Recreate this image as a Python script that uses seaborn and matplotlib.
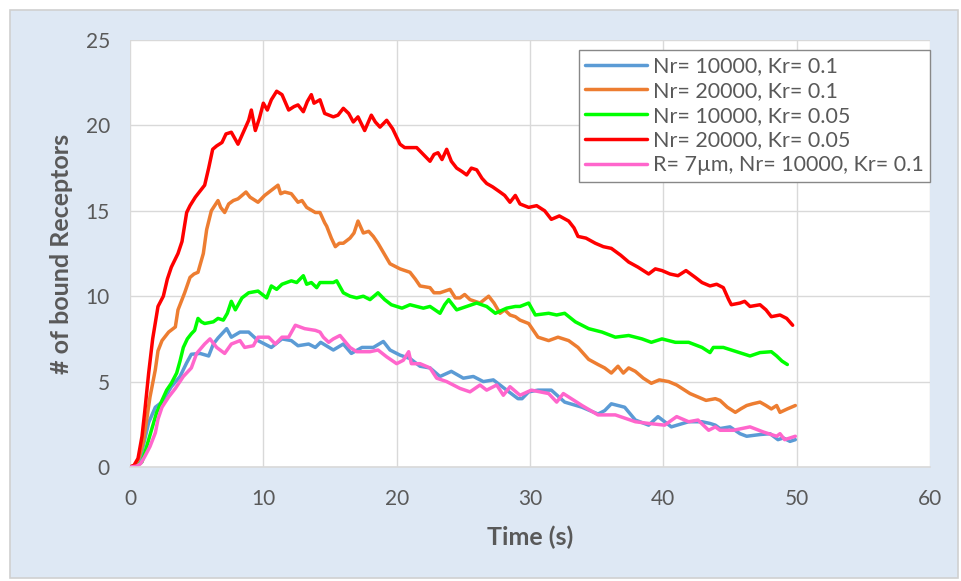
import matplotlib
matplotlib.use("Agg")
import matplotlib.pyplot as plt
from matplotlib.patches import Rectangle
import seaborn as sns
import pandas as pd

series_names = [
    "Nr= 10000, Kr= 0.1",
    "Nr= 20000, Kr= 0.1",
    "Nr= 10000, Kr= 0.05",
    "Nr= 20000, Kr= 0.05",
    "R= 7\u00b5m, Nr= 10000, Kr= 0.1",
]
series_colors = ["#5B9BD5", "#ED7D31", "#00FF00", "#FF0000", "#FF66CC"]

blue_t = [0, 0.5, 0.8, 1.1, 1.4, 1.9, 2.4, 3.1, 3.75, 4.25, 4.6, 5.25, 5.9, 6.25, 6.6, 7.25, 7.6, 8.25, 8.9, 9.6,
          10.1, 10.6, 11.4, 12.1, 12.6, 13.4, 13.9, 14.3, 15.25, 16.0, 16.6, 17.4, 18.25, 19.0, 19.5, 20.25, 21.0,
          21.75, 22.5, 23.25, 24.1, 25.0, 25.75, 26.5, 27.25, 28.25, 29.1, 29.4, 29.9, 30.6, 31.6, 32.6, 33.9, 35.1,
          35.6, 36.1, 37.1, 37.9, 38.9, 39.6, 40.6, 41.9, 42.9, 43.5, 43.9, 44.25, 45.0, 45.75, 46.25, 47.25, 48.0,
          48.6, 49.0, 49.5, 49.9]
blue_v = [0, 0.1, 0.6, 1.6, 2.6, 3.5, 3.8, 4.7, 5.3, 6.1, 6.6, 6.65, 6.5, 7.2, 7.55, 8.1, 7.6, 7.9, 7.9, 7.4,
          7.2, 7.0, 7.5, 7.4, 7.1, 7.2, 7.0, 7.3, 6.85, 7.2, 6.65, 7.0, 7.0, 7.35, 6.85, 6.55, 6.35,
          5.9, 5.8, 5.3, 5.6, 5.2, 5.3, 5.0, 5.1, 4.5, 4.0, 4.0, 4.4, 4.5, 4.5, 3.8, 3.5, 3.1,
          3.3, 3.7, 3.5, 2.75, 2.45, 2.95, 2.35, 2.65, 2.65, 2.55, 2.45, 2.25, 2.35, 1.95, 1.8, 1.9, 1.95,
          1.6, 1.7, 1.5, 1.6]

orange_t = [0, 0.4, 0.7, 1.0, 1.2, 1.5, 1.9, 2.1, 2.4, 2.9, 3.4, 3.6, 4.1, 4.5, 4.8, 5.1, 5.5, 5.75, 6.1, 6.6,
            6.8, 7.1, 7.4, 7.75, 8.1, 8.4, 8.7, 9.0, 9.6, 10.1, 10.6, 11.1, 11.3, 11.6, 12.1, 12.6, 12.9, 13.25,
            13.9, 14.25, 14.6, 14.75, 15.1, 15.4, 15.7, 16.0, 16.5, 16.8, 17.1, 17.5, 17.9, 18.25, 18.6, 18.9,
            19.5, 20.25, 21.0, 21.4, 21.75, 22.5, 22.8, 23.25, 24.0, 24.4, 24.75, 25.1, 25.5, 26.25, 26.9, 27.3,
            27.75, 28.1, 28.5, 28.9, 29.25, 29.9, 30.6, 31.4, 32.1, 32.9, 33.6, 34.4, 35.1, 35.6, 36.1, 36.6,
            37.0, 37.4, 37.9, 38.5, 39.1, 39.7, 40.4, 41.0, 41.4, 42.0, 42.6, 43.2, 43.9, 44.25, 44.8, 45.4,
            45.8, 46.25, 46.7, 47.25, 47.7, 48.1, 48.5, 48.75, 49.3, 49.9]
orange_v = [0, 0.1, 0.6, 1.5, 2.5, 4.1, 5.7, 6.8, 7.4, 7.9, 8.2, 9.2, 10.2, 11.1, 11.3, 11.4, 12.5, 13.9, 15.0, 15.6,
            15.2, 14.9, 15.4, 15.6, 15.7, 15.9, 16.1, 15.8, 15.5, 15.9, 16.2, 16.5, 16.0, 16.1, 16.0, 15.5, 15.6, 15.2,
            14.9, 14.9, 14.3, 14.1, 13.4, 12.9, 13.1, 13.1, 13.4, 13.7, 14.4, 13.7, 13.8, 13.5, 13.1, 12.7,
            11.9, 11.6, 11.4, 11.0, 10.6, 10.5, 10.2, 10.2, 10.4, 9.9, 9.9, 10.1, 9.8, 9.6, 10.0, 9.6,
            9.0, 9.2, 8.9, 8.8, 8.6, 8.4, 7.6, 7.4, 7.6, 7.4, 7.0, 6.3, 6.0, 5.8, 5.5, 5.9,
            5.5, 5.8, 5.6, 5.2, 4.9, 5.1, 5.0, 4.8, 4.6, 4.3, 4.1, 3.9, 4.0, 3.9, 3.5, 3.2,
            3.4, 3.6, 3.7, 3.8, 3.6, 3.4, 3.6, 3.2, 3.4, 3.6]

green_t = [0, 0.5, 0.9, 1.1, 1.4, 1.7, 2.0, 2.4, 2.75, 3.1, 3.5, 3.75, 4.0, 4.3, 4.6, 4.85, 5.1, 5.35, 5.6, 6.25,
           6.6, 7.0, 7.3, 7.6, 7.9, 8.4, 8.9, 9.6, 10.25, 10.6, 11.0, 11.4, 12.1, 12.5, 13.0, 13.25, 13.6, 14.0,
           14.25, 14.6, 15.25, 15.5, 16.0, 16.5, 17.0, 17.5, 18.0, 18.6, 19.1, 19.6, 20.4, 21.0, 21.5, 22.0, 22.5,
           23.25, 23.6, 23.9, 24.5, 25.25, 26.0, 26.75, 27.4, 28.25, 28.9, 29.25, 29.9, 30.4, 31.4, 32.0, 32.6,
           33.4, 34.4, 35.4, 36.4, 37.4, 38.4, 39.1, 39.9, 40.9, 41.9, 42.9, 43.5, 43.75, 44.5, 45.5, 46.5,
           47.25, 48.1, 48.5, 48.9, 49.3]
green_v = [0, 0.05, 0.3, 0.8, 1.6, 2.4, 3.2, 3.9, 4.5, 4.9, 5.5, 6.2, 7.0, 7.5, 7.8, 8.0, 8.7, 8.5, 8.4, 8.5,
           8.7, 8.6, 9.0, 9.7, 9.2, 9.9, 10.2, 10.3, 9.9, 10.6, 10.4, 10.7, 10.9, 10.8, 11.2, 10.7, 10.8, 10.5,
           10.8, 10.8, 10.8, 10.9, 10.2, 10.0, 9.9, 10.0, 9.8, 10.2, 9.8, 9.5, 9.3, 9.5, 9.4, 9.3, 9.4,
           9.0, 9.5, 9.8, 9.2, 9.4, 9.6, 9.4, 9.0, 9.3, 9.4, 9.4, 9.6, 8.9, 9.0, 8.9, 9.0,
           8.5, 8.1, 7.9, 7.6, 7.7, 7.5, 7.3, 7.5, 7.3, 7.3, 7.0, 6.7, 7.0, 7.0, 6.75, 6.5,
           6.7, 6.75, 6.5, 6.2, 6.0]

red_t = [0, 0.3, 0.6, 0.9, 1.1, 1.4, 1.7, 2.1, 2.5, 2.8, 3.1, 3.6, 3.9, 4.25, 4.5, 4.9, 5.2, 5.6, 5.9, 6.2,
         6.5, 6.9, 7.2, 7.6, 8.1, 8.5, 8.9, 9.1, 9.4, 9.7, 10.0, 10.3, 10.6, 11.0, 11.4, 11.9, 12.3, 12.6, 13.0,
         13.3, 13.6, 13.8, 14.25, 14.6, 15.25, 15.6, 16.0, 16.4, 16.75, 17.1, 17.6, 18.1, 18.4, 18.75, 19.25,
         19.7, 20.25, 20.6, 21.0, 21.5, 22.0, 22.5, 22.8, 23.1, 23.4, 23.75, 24.1, 24.5, 24.9, 25.25, 25.6,
         26.0, 26.4, 26.75, 27.2, 27.75, 28.1, 28.5, 28.9, 29.25, 29.9, 30.5, 31.1, 31.6, 32.2, 32.9, 33.3,
         33.6, 34.2, 34.9, 35.5, 36.1, 36.8, 37.4, 38.1, 38.9, 39.4, 39.9, 40.5, 41.1, 41.7, 42.4, 42.9,
         43.5, 44.0, 44.5, 44.9, 45.1, 45.75, 46.1, 46.5, 47.25, 47.7, 48.1, 48.75, 49.25, 49.7]
red_v = [0, 0.1, 0.5, 1.8, 3.2, 5.5, 7.5, 9.4, 10.0, 11.0, 11.7, 12.5, 13.2, 14.9, 15.3, 15.8, 16.1, 16.5, 17.5, 18.6,
         18.8, 19.0, 19.5, 19.6, 18.9, 19.6, 20.3, 20.9, 19.7, 20.4, 21.3, 20.9, 21.5, 22.0, 21.8, 20.9, 21.1, 21.2, 20.8,
         21.4, 21.8, 21.3, 21.5, 20.7, 20.5, 20.6, 21.0, 20.7, 20.2, 20.5, 19.7, 20.6, 20.2, 19.9, 20.3,
         19.8, 18.9, 18.7, 18.7, 18.7, 18.3, 17.9, 18.3, 18.4, 18.0, 18.6, 17.9, 17.5, 17.3, 17.1, 17.5,
         17.4, 16.9, 16.6, 16.4, 16.1, 15.9, 15.5, 15.9, 15.4, 15.2, 15.3, 15.0, 14.5, 14.7, 14.4, 14.0,
         13.5, 13.4, 13.1, 12.9, 12.8, 12.4, 12.0, 11.7, 11.3, 11.6, 11.5, 11.3, 11.2, 11.5, 11.1, 10.8,
         10.6, 10.7, 10.5, 9.8, 9.5, 9.6, 9.7, 9.4, 9.5, 9.2, 8.8, 8.9, 8.7, 8.3]

pink_t = [0, 0.5, 0.8, 1.1, 1.5, 1.9, 2.1, 2.4, 2.9, 3.4, 4.0, 4.6, 5.0, 5.6, 6.0, 6.5, 7.1, 7.6, 8.25, 8.6,
          9.25, 9.6, 10.4, 10.9, 11.4, 11.9, 12.4, 13.1, 13.9, 14.25, 14.5, 14.9, 15.25, 15.75, 16.5, 17.0, 18.0,
          18.6, 19.25, 20.0, 20.5, 20.9, 21.1, 21.75, 22.5, 23.0, 23.75, 24.75, 25.5, 26.25, 26.75, 27.5, 28.0,
          28.5, 29.25, 30.1, 31.4, 32.0, 32.5, 33.9, 35.1, 36.4, 37.9, 38.9, 40.1, 41.0, 41.9, 42.6, 43.4, 43.9,
          44.25, 45.25, 46.5, 47.5, 48.5, 48.75, 49.1, 49.5, 49.9]
pink_v = [0, 0.05, 0.2, 0.6, 1.2, 2.0, 2.8, 3.5, 4.1, 4.6, 5.3, 5.8, 6.65, 7.2, 7.5, 7.0, 6.65, 7.2, 7.4, 7.0,
          7.1, 7.6, 7.6, 7.2, 7.6, 7.6, 8.3, 8.1, 8.0, 7.9, 7.6, 7.3, 7.5, 7.7, 7.0, 6.75, 6.75,
          6.85, 6.45, 6.05, 6.25, 6.75, 6.05, 6.05, 5.8, 5.2, 5.0, 4.6, 4.4, 4.8, 4.5, 4.8, 4.2,
          4.7, 4.2, 4.5, 4.3, 3.8, 4.3, 3.6, 3.05, 3.05, 2.65, 2.55, 2.45, 2.95, 2.65, 2.75, 2.15, 2.35,
          2.15, 2.15, 2.35, 2.05, 1.8, 1.95, 1.6, 1.7, 1.8]

x_ticks = [0, 10, 20, 30, 40, 50, 60]
y_ticks = [0, 5, 10, 15, 20, 25]
x_label = "Time (s)"
y_label = "# of bound Receptors"

all_t = [blue_t, orange_t, green_t, red_t, pink_t]
all_v = [blue_v, orange_v, green_v, red_v, pink_v]
frames = []
for name, t, v in zip(series_names, all_t, all_v):
    frames.append(pd.DataFrame({"time": t, "value": v, "series": name}))
df = pd.concat(frames, ignore_index=True)

sns.set_theme(style="white")
plt.rcParams["font.family"] = ["Lato", "DejaVu Sans"]

W, H = 961, 581
fig = plt.figure(figsize=(W / 100, H / 100), dpi=100)
fig.patch.set_facecolor("white")
fig.add_artist(Rectangle((10 / W, 3 / H), 948 / W, 568 / H, transform=fig.transFigure,
                         facecolor="#DEE8F4", edgecolor="#D0D0D0", linewidth=1.2, zorder=-1))

ax = fig.add_axes([130 / W, 1 - 467 / H, 800 / W, 427 / H])
ax.set_facecolor("white")

sns.lineplot(data=df, x="time", y="value", hue="series", hue_order=series_names,
             palette=dict(zip(series_names, series_colors)), sort=False, estimator=None,
             linewidth=2.5, ax=ax)

ax.set_xlim(0, 60)
ax.set_ylim(0, 25)
ax.set_xticks(x_ticks)
ax.set_yticks(y_ticks)
ax.grid(True, color="#D9D9D9", linewidth=1.0)
ax.set_axisbelow(True)
for s in ["top", "right", "left"]:
    ax.spines[s].set_visible(False)
ax.spines["bottom"].set_color("#D9D9D9")
ax.spines["bottom"].set_linewidth(1.2)
ax.tick_params(axis="both", length=0, labelsize=15, labelcolor="#595959")
ax.tick_params(axis="x", pad=16)
ax.tick_params(axis="y", pad=14.5)
ax.set_xlabel(x_label, fontsize=18, fontweight="bold", color="#595959", labelpad=12)
ax.set_ylabel(y_label, fontsize=18, fontweight="bold", color="#595959", labelpad=9)

handles, labels = ax.get_legend_handles_labels()
leg = ax.legend(handles, labels, loc="upper right", bbox_to_anchor=(1.0, 0.977), fontsize=15.5,
                frameon=True, fancybox=False, edgecolor="#888888", framealpha=1.0,
                handlelength=2.9, handletextpad=0.25, labelspacing=0.22, borderpad=0.3,
                borderaxespad=0.0)
leg.get_frame().set_linewidth(1.0)
for txt in leg.get_texts():
    txt.set_color("#595959")
for ln in leg.get_lines():
    ln.set_linewidth(2.5)

fig.savefig("out.png", dpi=100, facecolor=fig.get_facecolor())
